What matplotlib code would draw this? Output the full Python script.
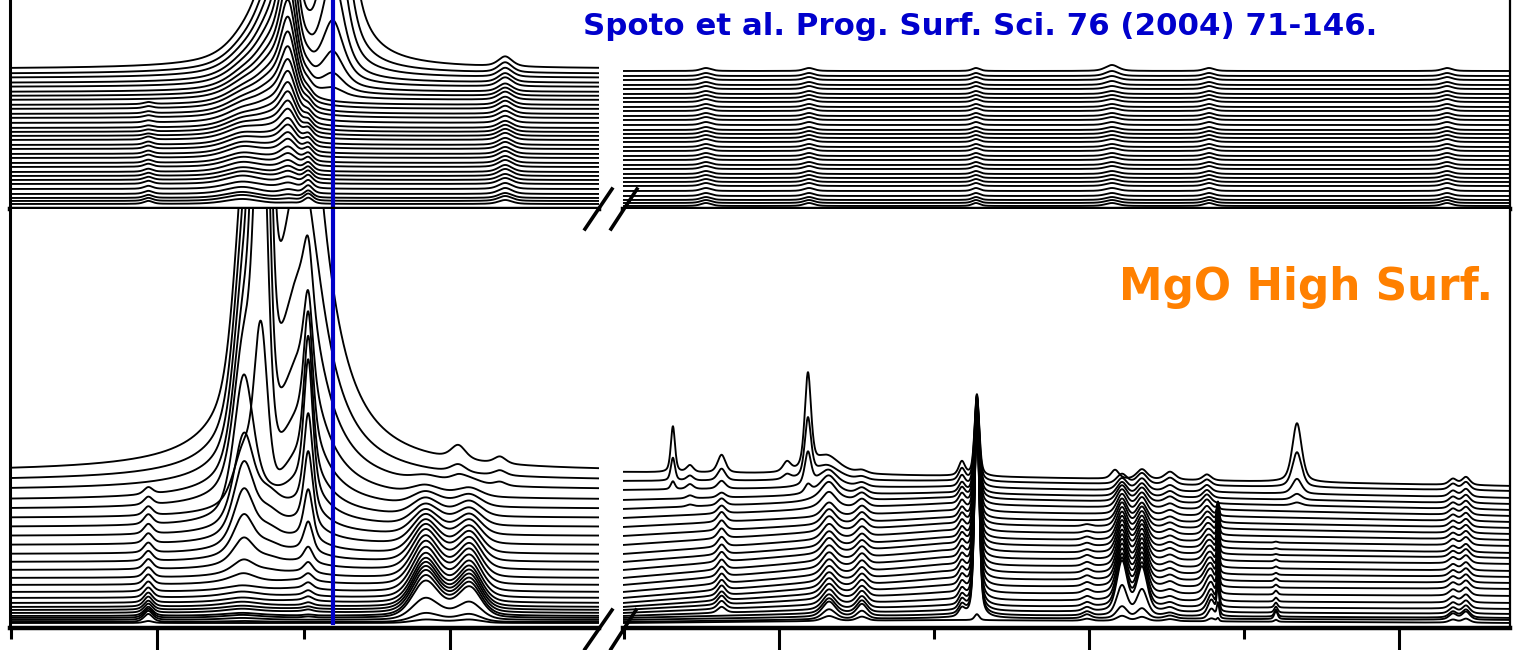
import numpy as np
import matplotlib.pyplot as plt
from matplotlib.lines import Line2D

W, H = 1518, 650

# x windows of the broken axis (cm-1)
co_lim = (2225.1, 2124.6)
carb_lim = (1700.6, 1128.4)
blue_line_pos = 2170

# ---------------- lower panel: MgO high surface, 25 spectra (bottom -> top)
base_low = [5, 6, 8, 10, 12, 15, 18, 21, 25, 30, 36, 43, 50, 58, 66, 74, 83, 92, 101, 110, 119, 128, 138, 147, 156]
base_low_mid = [8, 10, 13, 17, 22, 28, 35, 42, 49, 56, 63, 70, 77, 84, 90, 97, 104, 110, 117, 124, 130, 135, 141, 147, 152]
base_low_end = [5, 8, 10, 14, 19, 25, 32, 39, 45, 51, 57, 64, 70, 75, 82, 88, 94, 100, 106, 112, 118, 124, 130, 137, 142]

low_2202 = [2, 8, 9, 9, 9, 9, 9, 10, 10, 10, 10, 10, 10, 10, 10, 10, 10, 10, 10, 9, 8, 7, 0, 0, 0]
low_2186 = [0, 1, 2, 3, 3, 4, 4, 5, 5, 6, 6, 7, 7, 8, 8, 8, 8, 8, 8, 8, 8, 8, 8, 8, 8]
low_2185 = [0, 0, 0, 0, 0, 0, 0, 0, 0, 0, 0, 4, 10, 22, 36, 52, 68, 85, 135, 50, 140, 150, 160, 170, 180]
low_2181 = [0] * 12 + [3, 6, 10, 15, 20, 25, 10, 0, 0, 0, 0, 0, 0]
low_2182 = [0] * 19 + [160, 380, 600, 900, 1200, 1500]
low_2176 = [0, 0, 0, 0, 0, 1, 1, 1, 2, 2, 3, 4, 5, 7, 10, 14, 20, 28, 40, 58, 85, 130, 200, 300, 450]
low_2174 = [0, 0, 0, 1, 1, 2, 2, 3, 4, 5, 6, 7, 10, 15, 29, 49, 72, 93, 127, 126, 114, 83, 60, 0, 0]
low_2154 = [3, 8, 20, 34, 37, 39, 40, 41, 41, 41, 41, 40, 39, 37, 34, 31, 27, 23, 19, 16, 12, 8, 5, 0, 0]
low_2151 = [1, 2, 4, 6, 7, 7, 7, 7, 7, 7, 7, 7, 6, 6, 6, 5, 5, 4, 4, 3, 3, 2, 2, 0, 0]
low_2147 = [3, 7, 16, 28, 30, 31, 32, 33, 33, 33, 33, 32, 31, 29, 27, 25, 22, 19, 16, 14, 11, 8, 5, 0, 0]
low_2149 = [0] * 22 + [5, 8, 14]
low_2142 = [0] * 22 + [4, 5, 7]

low_1668 = [0] * 22 + [8, 23, 46]
low_1657 = [0] * 20 + [2, 3, 5, 5, 7]
low_1637 = [0, 0, 0, 0, 6, 8, 9, 9, 10, 10, 10, 10, 10, 10, 10, 10, 10, 10, 10, 8, 7, 5, 8, 12, 18]
low_1595 = [0] * 23 + [5, 10]
low_1581 = [0] * 21 + [8, 32, 58, 95]
low_1569 = [0] * 19 + [4, 8, 10, 12, 15, 18]
low_1568 = [5, 10] + [15] * 16 + [14, 13, 12, 10, 6, 0, 0]
low_1546 = [4, 8, 12, 12, 12, 12, 11, 11, 11, 11, 11, 11, 11, 10, 10, 10, 10, 10, 9, 8, 7, 6, 4, 3, 3]
low_1482 = [0, 8, 9, 10, 10, 10, 10, 10, 10, 10, 10, 10, 10, 10, 10, 10, 10, 10, 10, 10, 10, 10, 11, 12, 14]
low_1472 = [6, 205, 202, 198, 193, 188, 182, 176, 171, 164, 158, 153, 147, 141, 135, 129, 123, 118, 112, 105, 100, 96, 91, 86, 82]
low_1401 = [2, 4, 4, 4, 4, 4, 4, 4, 4, 4, 4, 4, 3, 3, 3, 2, 2, 0, 0, 0, 0, 0, 0, 0, 0]
low_1383 = [0] * 24 + [9]
low_1379 = [5, 12, 30, 50, 48, 46, 44, 42, 40, 38, 36, 34, 32, 30, 28, 26, 24, 22, 20, 18, 16, 14, 12, 10, 0]
low_1366 = [4, 10, 26, 44, 43, 42, 40, 38, 36, 34, 32, 30, 28, 26, 24, 22, 20, 18, 17, 15, 14, 13, 12, 11, 10]
low_1348 = [2, 3, 3, 4, 4, 4, 4, 5, 5, 5, 5, 5, 5, 5, 5, 5, 5, 5, 5, 5, 6, 6, 6, 7, 8]
low_1324 = [0, 0, 2, 4, 6, 8, 9, 10, 10, 10, 10, 10, 10, 10, 10, 10, 10, 10, 10, 10, 9, 8, 7, 6, 6]
low_1321 = [3, 10, 15, 15, 14, 14, 13, 12, 11, 10, 9, 8, 7, 6, 5, 4, 3, 2, 0, 0, 0, 0, 0, 0, 0]
low_1317 = [3, 15, 30, 32, 32, 32, 32, 32, 32, 31, 31, 30, 30, 29, 28, 27, 25, 20, 12, 5, 0, 0, 0, 0, 0]
low_1279 = [2, 8, 7, 6, 5, 4, 4, 3, 3, 2, 2, 2, 1, 1, 1, 0, 0, 0, 0, 0, 0, 0, 0, 0, 0]
low_1266 = [0] * 20 + [3, 6, 15, 35, 59]
low_1165 = [3] + [6] * 24
low_1157 = [4] + [8] * 24

# ---------------- upper panel: reference spectra, 32 traces (bottom -> top)
base_top = [5, 8, 11, 15, 20, 25, 29, 33, 37, 42, 46, 51, 55, 60, 64, 69, 73, 77, 81, 86, 91, 95, 100, 104, 109, 113, 117, 122, 126, 131, 135, 140]

top_2202 = [3] * 16 + [2] * 8 + [0] * 8
top_2185 = [5, 6, 6, 7, 7, 8, 8, 8, 9, 9, 9, 10, 10, 10, 10, 10, 10, 10, 10, 10, 10, 10, 10, 10, 10, 10, 10, 10, 10, 10, 10, 10]
top_2180 = [0, 0, 0, 0, 1, 1, 2, 2, 3, 3, 4, 5, 6, 7, 8, 10, 12, 14, 16, 18, 21, 24, 27, 30, 34, 38, 43, 48, 54, 60, 67, 75]
top_2178 = [1, 2, 3, 4, 5, 6, 7, 8, 9, 11, 13, 15, 17, 19, 21, 24, 27, 31, 35, 40, 45, 52, 60, 69, 78, 90, 105, 125, 150, 185, 230, 300]
top_2174 = [6, 7, 7, 8, 8, 8, 8, 8, 8, 8, 8, 8, 8, 8, 8, 8, 7, 7, 7, 6, 6, 6, 5, 5, 5, 5, 5, 5, 5, 5, 5, 5]
top_2170 = [0] * 24 + [8, 18, 35, 60, 100, 170, 280, 480]
top_2141 = [4, 5, 5, 6, 6, 6, 6, 7, 7, 7, 7, 7, 7, 7, 7, 7, 7, 7, 7, 7, 7, 8, 8, 8, 8, 8, 8, 9, 9, 9, 10, 10]
top_small = [3] * 32
top_1385 = [3] * 28 + [4, 4, 5, 6]

# band tables: (centre cm-1, half width cm-1, lorentz fraction, amplitudes)
low_co_bands = [
    (2201.5, 0.9, 0.5, low_2202), (2185.5, 4.0, 1.0, low_2186),
    (2185.2, 2.0, 0.5, low_2185), (2181.0, 2.5, 0.5, low_2181),
    (2182.3, 1.3, 0.2, low_2182),
    (2175.5, 4.5, 1.0, low_2176), (2174.2, 0.9, 0.5, low_2174),
    (2154.3, 2.6, 0.3, low_2154), (2150.5, 3.5, 0.0, low_2151),
    (2146.6, 2.3, 0.3, low_2147), (2148.6, 1.5, 0.5, low_2149),
    (2141.5, 1.2, 0.5, low_2142),
]
low_carb_bands = [
    (1668.4, 1.6, 0.5, low_1668), (1657.4, 2.6, 0.5, low_1657),
    (1637.0, 3.0, 0.5, low_1637), (1594.8, 3.0, 0.5, low_1595),
    (1581.3, 2.4, 0.5, low_1581), (1569.0, 10.0, 0.7, low_1569),
    (1567.7, 5.0, 0.4, low_1568), (1546.5, 3.9, 0.4, low_1546),
    (1482.0, 2.4, 0.5, low_1482), (1472.3, 1.8, 0.5, low_1472),
    (1401.3, 3.2, 0.5, low_1401), (1383.2, 3.0, 0.5, low_1383),
    (1378.7, 4.0, 0.4, low_1379), (1365.8, 4.0, 0.4, low_1366),
    (1347.7, 4.0, 0.5, low_1348), (1323.9, 3.2, 0.5, low_1324),
    (1321.0, 2.5, 0.3, low_1321), (1316.8, 0.9, 0.5, low_1317),
    (1279.4, 1.3, 0.5, low_1279), (1265.8, 3.6, 0.5, low_1266),
    (1165.2, 3.0, 0.5, low_1165), (1156.8, 3.0, 0.5, low_1157),
]
top_co_bands = [
    (2201.5, 0.9, 0.5, top_2202), (2185.5, 3.5, 0.5, top_2185),
    (2180.5, 3.5, 0.8, top_2180),
    (2177.6, 1.6, 0.5, top_2178), (2174.2, 0.9, 0.5, top_2174),
    (2170.0, 2.2, 0.7, top_2170), (2140.6, 1.4, 0.5, top_2141),
]
top_carb_bands = [
    (1647.1, 4.0, 0.5, top_small), (1580.6, 4.0, 0.5, top_small),
    (1472.9, 3.0, 0.5, top_small), (1385.2, 5.0, 0.5, top_1385),
    (1322.6, 4.0, 0.5, top_small), (1169.0, 4.0, 0.5, top_small),
]


def band(x, c, hw, eta):
    d = (x - c) / hw
    return eta / (1 + d ** 2) + (1 - eta) * np.exp(-np.log(2) * d ** 2)


def spectrum(x, baseline, bands, i):
    y = np.array(baseline, dtype=float)
    for c, hw, eta, amp in bands:
        if amp[i]:
            y = y + amp[i] * band(x, c, hw, eta)
    return y


fig = plt.figure(figsize=(W / 100, H / 100), dpi=100)


def px_axes(x0, x1, ytop, ybot):
    return fig.add_axes([x0 / W, 1 - ybot / H, (x1 - x0) / W, (ybot - ytop) / H])


ax_tl = px_axes(10, 599, 0, 209)
ax_tr = px_axes(623, 1510, 0, 209)
ax_bl = px_axes(10, 599, 209, 628)
ax_br = px_axes(623, 1510, 209, 628)

x_co = np.linspace(co_lim[0], co_lim[1], 2000)
x_carb = np.linspace(carb_lim[0], carb_lim[1], 3000)
lw = 1.35

for i in range(len(base_top)):
    ax_tl.plot(x_co, spectrum(x_co, np.full_like(x_co, base_top[i]), top_co_bands, i), color='k', lw=lw)
    ax_tr.plot(x_carb, spectrum(x_carb, np.full_like(x_carb, base_top[i] - 2), top_carb_bands, i), color='k', lw=lw)

for i in range(len(base_low)):
    ax_bl.plot(x_co, spectrum(x_co, np.full_like(x_co, base_low[i]), low_co_bands, i), color='k', lw=lw)
    bl = np.interp(x_carb, [carb_lim[1], 1496, carb_lim[0]], [base_low_end[i], base_low_mid[i], base_low[i]])
    ax_br.plot(x_carb, spectrum(x_carb, bl, low_carb_bands, i), color='k', lw=lw)

blue = '#0000c8'
ax_tl.axvline(blue_line_pos, color=blue, lw=3)
ax_bl.axvline(blue_line_pos, ymin=0.012, color=blue, lw=3)

for ax in (ax_tl, ax_bl):
    ax.set_xlim(*co_lim)
for ax in (ax_tr, ax_br):
    ax.set_xlim(*carb_lim)
ax_tl.set_ylim(0, 209)
ax_tr.set_ylim(0, 209)
ax_bl.set_ylim(0, 419)
ax_br.set_ylim(0, 419)

for ax in (ax_tl, ax_tr, ax_bl, ax_br):
    ax.spines['top'].set_visible(False)
    ax.spines['bottom'].set_linewidth(3.2)
    ax.set_yticks([])
for ax in (ax_tl, ax_bl):
    ax.spines['right'].set_visible(False)
    ax.spines['left'].set_linewidth(2.2)
for ax in (ax_tr, ax_br):
    ax.spines['left'].set_visible(False)
    ax.spines['right'].set_linewidth(1.6)
for ax in (ax_tl, ax_tr):
    ax.set_xticks([])

ax_bl.set_xticks([2200, 2150])
ax_bl.set_xticks([2225, 2175], minor=True)
ax_br.set_xticks([1600, 1400, 1200])
ax_br.set_xticks([1700, 1500, 1300], minor=True)
for ax in (ax_bl, ax_br):
    ax.tick_params(axis='x', which='major', direction='out', length=16, width=2.2, labelbottom=False)
    ax.tick_params(axis='x', which='minor', direction='out', length=8, width=2.2, labelbottom=False)

# axis-break marks
for (xa, ya, xb, yb) in [(585, 229, 612, 189), (611, 229, 637, 189),
                         (585, 649, 612, 610), (611, 649, 636, 610)]:
    fig.add_artist(Line2D([xa / W, xb / W], [1 - ya / H, 1 - yb / H], color='k', lw=2.6,
                          transform=fig.transFigure))

fig.text(583 / W, 1 - 35 / H, "Spoto et al. Prog. Surf. Sci. 76 (2004) 71-146.", color='#0000cc',
         fontsize=22.2, fontweight='bold', ha='left', va='baseline')
fig.text(1493 / W, 1 - 300 / H, "MgO High Surf.", color='#ff8000',
         fontsize=31.5, fontweight='bold', ha='right', va='baseline')

fig.savefig('out.png', dpi=100)
